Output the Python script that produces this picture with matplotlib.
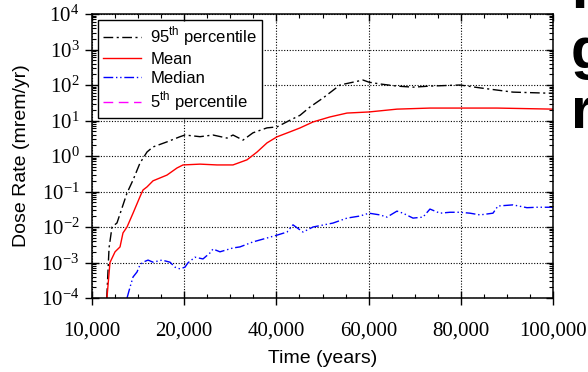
import numpy as np
import matplotlib
matplotlib.use("Agg")
import matplotlib.pyplot as plt
from matplotlib.ticker import FixedLocator, NullFormatter

plt.rcParams['font.family'] = ['Liberation Sans', 'DejaVu Sans']
plt.rcParams['mathtext.fontset'] = 'custom'
plt.rcParams['mathtext.rm'] = 'Liberation Sans'

SERIF = ['Liberation Serif', 'DejaVu Serif']

# ---------------- data ----------------
t_p95 = [11600, 11850, 12170, 12710, 13800, 14450, 15200, 15970, 16620, 18130,
         19550, 20170, 23430, 26250, 29280, 30580, 32750, 34920, 37960, 40130,
         42950, 45120, 47290, 50110, 53790, 56610, 58780, 60080, 62470, 66150,
         69630, 73310, 79820, 84160, 91320, 98690, 100000]
v_p95 = [1e-4, 2.6e-3, 1.0e-2, 1.3e-2, 9.1e-2, 0.21, 0.63, 1.3, 1.8, 2.5,
         3.5, 3.9, 3.5, 3.9, 3.2, 3.9, 2.8, 4.5, 6.2, 6.6,
         10.2, 14, 24, 43, 100, 120, 138, 120, 107, 93,
         87, 93, 100, 83, 63, 59, 59]

t_mean = [11620, 11950, 12500, 13040, 13360, 13800, 14450, 15200, 15530, 15970,
          16620, 18130, 19220, 19870, 23430, 27110, 30580, 33620, 35790, 37960,
          40130, 42950, 45120, 47940, 51620, 55310, 60080, 66150, 73310, 79820,
          87850, 100000]
v_mean = [1e-4, 1.0e-3, 2.0e-3, 2.75e-3, 6.8e-3, 1.0e-2, 2.45e-2, 7.1e-2, 0.11, 0.135,
          0.20, 0.29, 0.46, 0.56, 0.59, 0.56, 0.56, 0.78, 1.29, 2.34,
          3.47, 4.79, 6.17, 9.1, 12.6, 16.2, 17.4, 20.9, 22.4, 22.4,
          22.4, 20.9]

t_median = [13800, 14120, 14450, 14880, 15200, 15530, 16080, 16620, 17590, 18460,
            19000, 19550, 20170, 20820, 22340, 24080, 25590, 26250, 27760, 30580,
            32100, 34920, 37960, 40130, 42300, 43600, 45770, 47940, 52270, 55310,
            58130, 60080, 62470, 63990, 66150, 67460, 69630, 71800, 73310, 75480,
            77650, 79820, 81990, 84160, 86980, 88060, 91320, 94350, 96520, 100000]
v_median = [1e-4, 2.0e-4, 3.9e-4, 5.4e-4, 8.5e-4, 1.02e-3, 1.17e-3, 1.02e-3, 1.17e-3, 1.02e-3,
            7.4e-4, 6.6e-4, 7.4e-4, 9.8e-4, 1.41e-3, 1.26e-3, 1.86e-3, 2.4e-3, 2.0e-3, 2.57e-3,
            2.75e-3, 3.8e-3, 4.9e-3, 5.9e-3, 7.2e-3, 1.15e-2, 7.2e-3, 1.0e-2, 1.29e-2, 1.78e-2,
            2.04e-2, 2.45e-2, 2.19e-2, 1.9e-2, 2.8e-2, 2.45e-2, 1.78e-2, 1.9e-2, 3.2e-2, 2.45e-2,
            2.6e-2, 2.6e-2, 2.45e-2, 2.19e-2, 2.45e-2, 3.9e-2, 4.2e-2, 3.5e-2, 3.6e-2, 3.6e-2]

# 5th percentile stays below the plotted range (not visible)
t_p5 = []
v_p5 = []

labels = ['95$^{\\mathdefault{th}}$ percentile', 'Mean', 'Median',
          '5$^{\\mathdefault{th}}$ percentile']

x_ticks = [10000, 20000, 40000, 60000, 80000, 100000]
x_tick_labels = ['10,000', '20,000', '40,000', '60,000', '80,000', '100,000']
x_minor = [12500, 15000, 17500, 25000, 30000, 35000, 45000, 50000, 55000,
           65000, 70000, 75000, 85000, 90000, 95000]
y_exponents = [-4, -3, -2, -1, 0, 1, 2, 3, 4]


# piecewise time axis: 10,000-20,000 occupies the same width as 20,000-40,000
def fwd(t):
    t = np.asarray(t, dtype=float)
    return np.where(t < 20000, 2.0 * (t - 10000.0), t)


def inv(u):
    u = np.asarray(u, dtype=float)
    return np.where(u < 20000, u / 2.0 + 10000.0, u)


# ---------------- figure ----------------
fig = plt.figure(figsize=(5.88, 3.72), dpi=100)
L, R, T, B = 92, 553, 14, 298
W, H = 588, 372
pos = [L / W, 1 - B / H, (R - L) / W, (B - T) / H]
ax = fig.add_axes(pos)

ax.set_xscale('function', functions=(fwd, inv))
ax.set_yscale('log')

ax.plot(t_p95, v_p95, color='black', lw=1.0, linestyle=(0, (7, 2.5, 1.5, 2.5)),
        label=labels[0])
ax.plot(t_mean, v_mean, color='#ff0000', lw=1.0, linestyle='-', label=labels[1])
ax.plot(t_median, v_median, color='#0000ff', lw=1.0,
        linestyle=(0, (7, 2, 1, 2, 1, 2)), label=labels[2])
ax.plot(t_p5, v_p5, color='#ff00ff', lw=1.0, linestyle=(0, (7, 4)), label=labels[3])

ax.xaxis.set_minor_locator(FixedLocator(x_minor))
ax.xaxis.set_minor_formatter(NullFormatter())
y_minor = [m * 10.0 ** e for e in y_exponents[:-1] for m in range(2, 10)]
ax.yaxis.set_minor_locator(FixedLocator(y_minor))
ax.yaxis.set_minor_formatter(NullFormatter())

ax.tick_params(which='major', direction='inout', length=10, width=1.0,
               top=False, right=False, color='black')
ax.tick_params(axis='x', which='major', pad=12)
ax.tick_params(axis='y', which='major', pad=4)
ax.tick_params(which='minor', direction='in', length=3, width=0.8,
               top=False, right=False)

ax.grid(which='major', color='black', linestyle=(0, (1, 1.5)), linewidth=0.8)
for s in ax.spines.values():
    s.set_linewidth(1.1)
    s.set_color('black')

# overlay for inward top/right ticks
ax2 = fig.add_axes(pos, sharex=ax, sharey=ax, frameon=False)
ax2.patch.set_visible(False)
ax2.tick_params(which='both', direction='in', bottom=False, left=False,
                top=True, right=True, labelbottom=False, labelleft=False,
                labeltop=False, labelright=False)
ax2.tick_params(which='major', length=5, width=1.0)
ax2.tick_params(which='minor', length=3, width=0.8)

# major ticks + serif labels
ax.set_xticks(x_ticks)
ax.set_xticklabels(x_tick_labels, family=SERIF, size=15)
y_major = [10.0 ** e for e in y_exponents]
ax.set_yticks(y_major)
ax.set_yticklabels(['$\\mathdefault{10^{%d}}$' % e for e in y_exponents],
                   family=SERIF, size=15)
ax.set_xlim(10000, 100000)
ax.set_ylim(1e-4, 1e4)

ax.set_xlabel('Time (years)', fontsize=14, labelpad=7)
ax.set_ylabel('Dose Rate (mrem/yr)', fontsize=14, labelpad=8)

leg = ax.legend(loc='upper left', fontsize=12, frameon=True, fancybox=False,
                edgecolor='black', framealpha=1, handlelength=2.3,
                handletextpad=0.55, labelspacing=0.22, borderpad=0.3,
                borderaxespad=0.35)
leg.get_frame().set_linewidth(1.0)
leg.set_zorder(5)

# truncated slide text at right edge
for ch, base in [('P', 8), ('g', 68), ('r', 128)]:
    fig.text(571 / W, 1 - base / H, ch, fontsize=42, fontweight='bold',
             family='Liberation Sans', va='baseline', ha='left')

fig.savefig('out.png', dpi=100)
